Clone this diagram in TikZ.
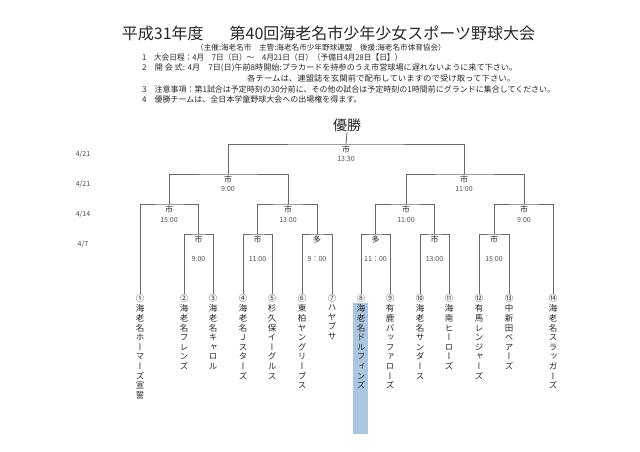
\documentclass[tikz,border=0pt]{standalone}
\usepackage{fontspec}
\usepackage{graphicx}
\newfontfamily\jp{Noto Sans CJK JP}
\newfontfamily\vjp[RawFeature=+vert]{Noto Sans CJK JP}
\definecolor{lin}{RGB}{105,105,105}
\definecolor{txt}{RGB}{40,40,40}
\definecolor{hl}{RGB}{172,198,226}
\begin{document}
\begin{tikzpicture}[x=1pt,y=-1pt,
  bk/.style={draw=lin, line width=0.8pt},
  venue/.style={font=\jp\fontsize{8}{9}\selectfont, text=txt, inner sep=0},
  tm/.style={font=\jp\fontsize{7}{8}\selectfont, text=txt!80, inner sep=0},
  day/.style={font=\jp\fontsize{7}{8}\selectfont, text=txt!85, inner sep=0},
  num/.style={font=\jp\fontsize{8.3}{9}\selectfont, text=txt, anchor=north, inner sep=0.4pt},
  team/.style={font=\vjp\fontsize{8.5}{9.6}\selectfont, text=txt, anchor=north, align=center, inner sep=0},
  info/.style={anchor=west, font=\jp\fontsize{8}{9}\selectfont, text=txt, inner sep=0}]
\useasboundingbox (0,0) rectangle (640,452);
\fill[white] (0,0) rectangle (640,452);
% header
\node[font=\jp\fontsize{16}{18}\selectfont, text=txt, inner sep=0] (title) at (328.5,33) {平成31年度\hspace{26pt}第40回海老名市少年少女スポーツ野球大会};
\node[font=\jp\fontsize{7.6}{9}\selectfont, text=txt, inner sep=0] (sub) at (321,48) {（主催:海老名市　主管:海老名市少年野球連盟　後援:海老名市体育協会）};
\node[info] (i1) at (142,57) {\resizebox{260pt}{\height}{1　大会日程：4月　7日（日）～　4月21日（日）（予備日4月28日【日】）}};
\node[info] (i2) at (142,68) {\resizebox{375pt}{\height}{2　開 会 式: 4月　7日(日)午前8時開始:プラカードを持参のうえ市営球場に遅れないように来て下さい。}};
\node[info] (i2b) at (247,78) {\resizebox{268pt}{\height}{各チームは、連盟誌を玄関前で配布していますので受け取って下さい。}};
\node[info] (i3) at (142,89) {\resizebox{413pt}{\height}{3　注意事項：第1試合は予定時刻の30分前に、その他の試合は予定時刻の1時間前にグランドに集合してください。}};
\node[info] (i4) at (142,99) {4　優勝チームは、全日本学童野球大会への出場権を得ます。};
\node[font=\jp\fontsize{14}{16}\selectfont, text=txt, inner sep=1pt] (win) at (347,125) {優勝};
% day labels
\node[day] (d1) at (83,154) {4/21};
\node[day] (d2) at (83,184) {4/21};
\node[day] (d3) at (83,214) {4/14};
\node[day] (d4) at (83,244) {4/7};
% highlight
\fill[hl] (353,303) rectangle (368,434);
% team numbers
\node[num] (n1) at (140,294) {①};
\node[num] (n2) at (184,294) {②};
\node[num] (n3) at (213,294) {③};
\node[num] (n4) at (243,294) {④};
\node[num] (n5) at (272,294) {⑤};
\node[num] (n6) at (302,294) {⑥};
\node[num] (n7) at (332,294) {⑦};
\node[num] (n8) at (361,294) {⑧};
\node[num] (n9) at (390,294) {⑨};
\node[num] (n10) at (420,294) {⑩};
\node[num] (n11) at (449,294) {⑪};
\node[num] (n12) at (479,294) {⑫};
\node[num] (n13) at (509,294) {⑬};
\node[num] (n14) at (553,294) {⑭};
% team names
\node[team] (t1) at (140,304.5) {海\\老\\名\\ホ\\ー\\マ\\ー\\ズ\\宣\\誓};
\node[team] (t2) at (184,304.5) {海\\老\\名\\フ\\レ\\ン\\ズ};
\node[team] (t3) at (213,304.5) {海\\老\\名\\キ\\ャ\\ロ\\ル};
\node[team] (t4) at (243,304.5) {海\\老\\名\\Ｊ\\ス\\タ\\ー\\ズ};
\node[team] (t5) at (272,304.5) {杉\\久\\保\\イ\\ー\\グ\\ル\\ス};
\node[team] (t6) at (302,304.5) {東\\柏\\ヤ\\ン\\グ\\リ\\ー\\ブ\\ス};
\node[team] (t7) at (332,304.5) {ハ\\ヤ\\ブ\\サ};
\node[team] (t8) at (361,304.5) {海\\老\\名\\ド\\ル\\フ\\ィ\\ン\\ズ};
\node[team] (t9) at (390,304.5) {有\\鹿\\バ\\ッ\\フ\\ァ\\ロ\\ー\\ズ};
\node[team] (t10) at (420,304.5) {海\\老\\名\\サ\\ン\\ダ\\ー\\ス};
\node[team] (t11) at (449,304.5) {海\\南\\ヒ\\ー\\ロ\\ー\\ズ};
\node[team] (t12) at (479,304.5) {有\\馬\\レ\\ン\\ジ\\ャ\\ー\\ズ};
\node[team] (t13) at (509,304.5) {中\\新\\田\\ベ\\ア\\ー\\ズ};
\node[team] (t14) at (553,304.5) {海\\老\\名\\ス\\ラ\\ッ\\ガ\\ー\\ズ};
% match points
\coordinate (r1) at (198.5,234);
\coordinate (r2) at (257.5,234);
\coordinate (r3) at (317,234);
\coordinate (r4) at (375.5,234);
\coordinate (r5) at (434.5,234);
\coordinate (r6) at (494,234);
\coordinate (q1) at (169,204);
\coordinate (q2) at (288,204);
\coordinate (q3) at (406,204);
\coordinate (q4) at (524,204);
\coordinate (s1) at (228,174);
\coordinate (s2) at (464,174);
\coordinate (f) at (346,144);
% bracket lines
\draw[bk] (n2.north) |- (r1) -| (n3.north);
\draw[bk] (n4.north) |- (r2) -| (n5.north);
\draw[bk] (n6.north) |- (r3) -| (n7.north);
\draw[bk] (n8.north) |- (r4) -| (n9.north);
\draw[bk] (n10.north) |- (r5) -| (n11.north);
\draw[bk] (n12.north) |- (r6) -| (n13.north);
\draw[bk] (n1.north) |- (q1) -| (r1);
\draw[bk] (r2) |- (q2) -| (r3);
\draw[bk] (r4) |- (q3) -| (r5);
\draw[bk] (r6) |- (q4) -| (n14.north);
\draw[bk] (q1) |- (s1) -| (q2);
\draw[bk] (q3) |- (s2) -| (q4);
\draw[bk] (s1) |- (f) -| (s2);
\draw[bk] (f) -- (win.south);
% match labels
\node[venue] (vf) at (346,149) {市};
\node[tm] (tf) at (346,159) {13:30};
\node[venue] (vs1) at (228,179) {市};
\node[tm] (ts1) at (228,189) {9:00};
\node[venue] (vs2) at (464,179) {市};
\node[tm] (ts2) at (464,189) {11:00};
\node[venue] (vq1) at (169,209) {市};
\node[tm] (tq1) at (169,220) {15:00};
\node[venue] (vq2) at (288,209) {市};
\node[tm] (tq2) at (288,220) {13:00};
\node[venue] (vq3) at (406,209) {市};
\node[tm] (tq3) at (406,220) {11:00};
\node[venue] (vq4) at (524,209) {市};
\node[tm] (tq4) at (524,220) {9:00};
\node[venue] (vr1) at (198.5,239) {市};
\node[tm] (tr1) at (198.5,259) {9:00};
\node[venue] (vr2) at (257.5,239) {市};
\node[tm] (tr2) at (257.5,259) {11:00};
\node[venue] (vr3) at (317,239) {多};
\node[tm] (tr3) at (317,259) {9：00};
\node[venue] (vr4) at (375.5,239) {多};
\node[tm] (tr4) at (375.5,259) {11：00};
\node[venue] (vr5) at (434.5,239) {市};
\node[tm] (tr5) at (434.5,259) {13:00};
\node[venue] (vr6) at (494,239) {市};
\node[tm] (tr6) at (494,259) {15:00};
\end{tikzpicture}
\end{document}
